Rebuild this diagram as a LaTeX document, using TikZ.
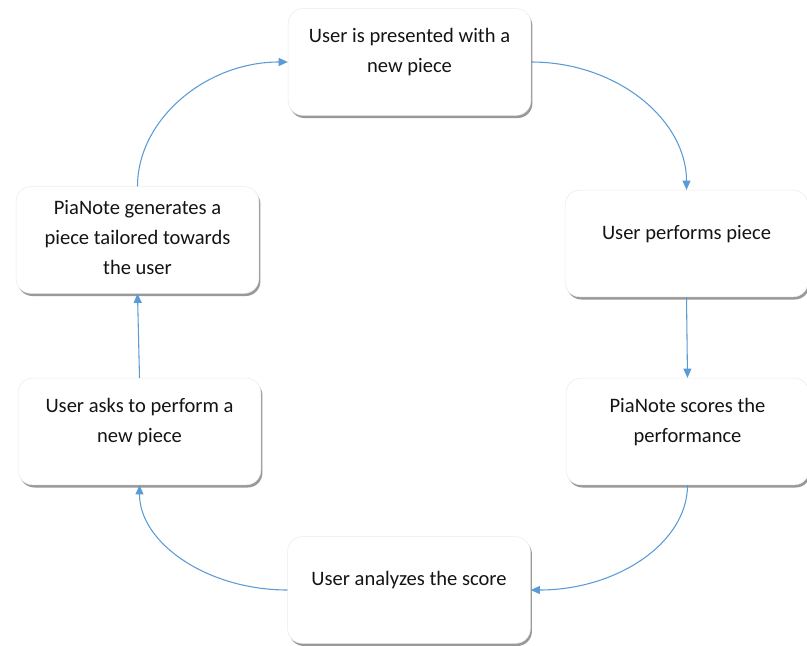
\documentclass[tikz,border=0pt]{standalone}
\usepackage{fontspec}
\setmainfont{Carlito}
\usetikzlibrary{shadows,arrows.meta}
\definecolor{flowblue}{RGB}{91,155,213}
\definecolor{boxtext}{RGB}{20,20,20}

\begin{document}
\begin{tikzpicture}[x=0.75pt,y=-0.75pt,
    stepbox/.style={rectangle,rounded corners=11pt,fill=white,draw=black!8,
        minimum width=182pt,minimum height=80pt,align=center,text=boxtext,
        font=\fontsize{15.4}{22.5}\selectfont,text depth=17pt,
        drop shadow={shadow xshift=1.2pt,shadow yshift=-2pt,opacity=0.4,fill=black}},
    flow/.style={draw=flowblue,line width=0.8pt,-{Triangle[length=7pt,width=6pt]}}]
    \useasboundingbox (0,0) rectangle (807,646);

    % boxes
    \node[stepbox] (present) at (409.5,62) {User is presented with a\\new piece};
    \node[stepbox] (perform) at (686.5,243.5) {User performs piece};
    \node[stepbox] (scores) at (687.5,431.5) {PiaNote scores the\\performance};
    \node[stepbox] (analyze) at (409,590) {User analyzes the score};
    \node[stepbox] (ask) at (139.5,431.5) {User asks to perform a\\new piece};
    \node[stepbox,text depth=4pt] (generate) at (137.5,240) {PiaNote generates a\\piece tailored towards\\the user};

    % cycle
    \draw[flow] (present.east) .. controls +(86,0) and +(0,-70) .. (perform.north);
    \draw[flow] (perform.south) -- (scores.north);
    \draw[flow] (scores.south) .. controls +(0,58) and +(86,0) .. (analyze.east);
    \draw[flow] (analyze.west) .. controls +(-80,0) and +(0,58) .. (ask.south);
    \draw[flow] (ask.north) -- (generate.south);
    \draw[flow] (generate.north) .. controls +(0,-67) and +(-82,0) .. (present.west);
\end{tikzpicture}
\end{document}
